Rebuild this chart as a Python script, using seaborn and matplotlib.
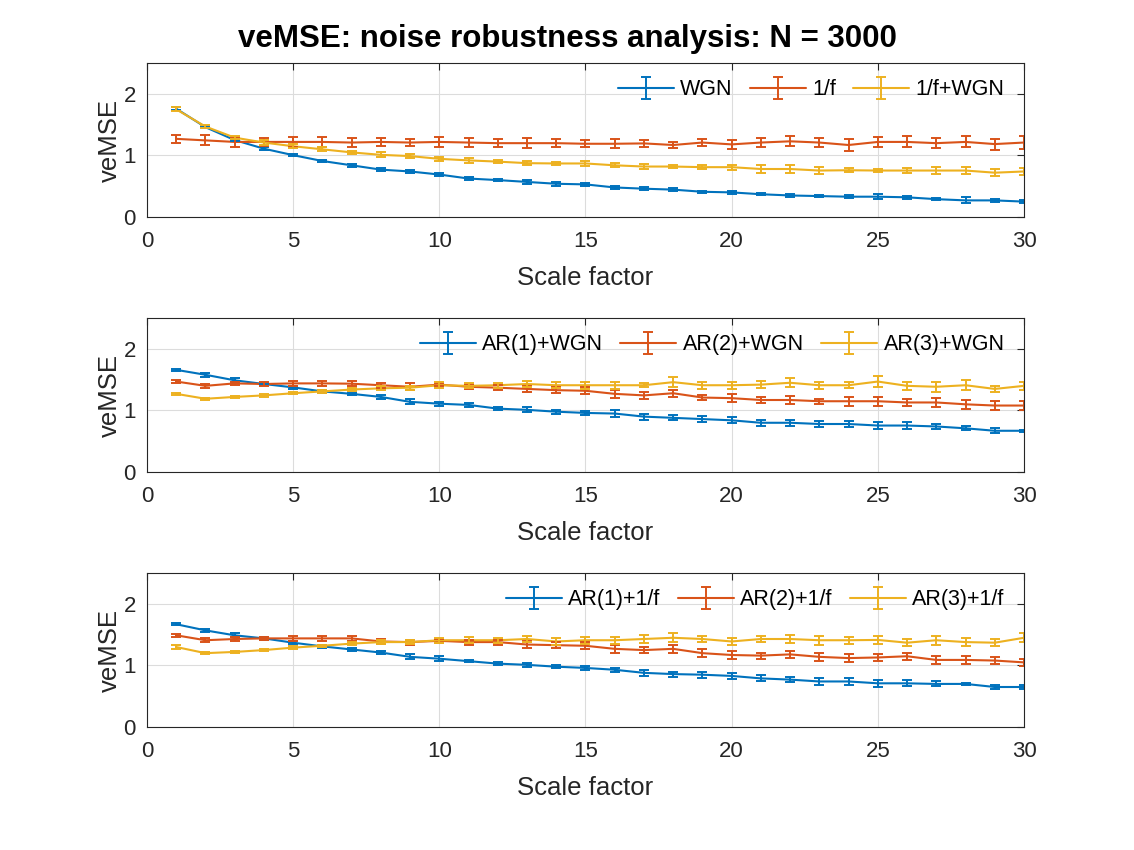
import matplotlib
matplotlib.use("Agg")
import matplotlib.pyplot as plt
from matplotlib.legend_handler import HandlerTuple
import pandas as pd
import seaborn as sns

scale = list(range(1, 31))

# panel 1
wgn = [1.76, 1.46, 1.25, 1.11, 1.005, 0.91, 0.84, 0.77, 0.74, 0.69,
       0.625, 0.60, 0.57, 0.54, 0.53, 0.48, 0.46, 0.445, 0.41, 0.40,
       0.37, 0.35, 0.34, 0.33, 0.33, 0.32, 0.29, 0.27, 0.27, 0.25]
wgn_err = [0.02, 0.02, 0.02, 0.02, 0.02, 0.02, 0.02, 0.02, 0.02, 0.02,
           0.02, 0.02, 0.03, 0.03, 0.02, 0.03, 0.02, 0.02, 0.02, 0.02,
           0.02, 0.02, 0.02, 0.02, 0.04, 0.02, 0.02, 0.05, 0.02, 0.03]
pink = [1.27, 1.245, 1.22, 1.22, 1.22, 1.22, 1.21, 1.22, 1.21, 1.22,
        1.21, 1.20, 1.20, 1.20, 1.19, 1.19, 1.196, 1.17, 1.21, 1.18,
        1.21, 1.23, 1.21, 1.17, 1.22, 1.22, 1.20, 1.22, 1.185, 1.21]
pink_err = [0.07, 0.08, 0.08, 0.07, 0.08, 0.08, 0.08, 0.07, 0.06, 0.08,
            0.08, 0.07, 0.08, 0.07, 0.06, 0.07, 0.06, 0.05, 0.06, 0.07,
            0.07, 0.08, 0.07, 0.09, 0.08, 0.09, 0.08, 0.09, 0.09, 0.11]
pink_wgn = [1.75, 1.47, 1.29, 1.21, 1.15, 1.10, 1.05, 1.01, 0.99, 0.945,
            0.92, 0.90, 0.875, 0.87, 0.87, 0.84, 0.82, 0.82, 0.81, 0.81,
            0.78, 0.78, 0.755, 0.76, 0.755, 0.755, 0.755, 0.755, 0.72, 0.74]
pink_wgn_err = [0.03, 0.03, 0.03, 0.04, 0.03, 0.03, 0.03, 0.04, 0.03, 0.03,
                0.04, 0.03, 0.03, 0.03, 0.04, 0.03, 0.04, 0.03, 0.03, 0.04,
                0.06, 0.06, 0.05, 0.03, 0.03, 0.04, 0.05, 0.05, 0.06, 0.06]

# panel 2
ar1_wgn = [1.66, 1.58, 1.49, 1.43, 1.375, 1.31, 1.27, 1.22, 1.14, 1.11,
           1.09, 1.03, 1.01, 0.98, 0.96, 0.95, 0.90, 0.88, 0.86, 0.84,
           0.80, 0.80, 0.78, 0.78, 0.755, 0.755, 0.74, 0.71, 0.67, 0.67]
ar1_wgn_err = [0.02, 0.03, 0.03, 0.02, 0.02, 0.02, 0.02, 0.03, 0.04, 0.03,
               0.03, 0.03, 0.04, 0.03, 0.03, 0.05, 0.05, 0.04, 0.05, 0.05,
               0.05, 0.05, 0.05, 0.05, 0.06, 0.05, 0.04, 0.03, 0.04, 0.02]
ar2_wgn = [1.47, 1.40, 1.44, 1.43, 1.44, 1.44, 1.435, 1.41, 1.385, 1.42,
           1.385, 1.37, 1.35, 1.33, 1.32, 1.27, 1.245, 1.28, 1.21, 1.20,
           1.17, 1.17, 1.15, 1.15, 1.15, 1.13, 1.13, 1.10, 1.08, 1.08]
ar2_wgn_err = [0.02, 0.03, 0.03, 0.03, 0.04, 0.04, 0.04, 0.04, 0.06, 0.03,
               0.04, 0.04, 0.05, 0.05, 0.06, 0.06, 0.06, 0.06, 0.04, 0.06,
               0.05, 0.06, 0.04, 0.07, 0.07, 0.05, 0.07, 0.07, 0.07, 0.07]
ar3_wgn = [1.27, 1.19, 1.22, 1.245, 1.28, 1.31, 1.34, 1.36, 1.37, 1.41,
           1.40, 1.41, 1.43, 1.41, 1.41, 1.41, 1.41, 1.46, 1.41, 1.41,
           1.42, 1.45, 1.41, 1.41, 1.47, 1.40, 1.385, 1.41, 1.35, 1.40]
ar3_wgn_err = [0.02, 0.02, 0.02, 0.02, 0.02, 0.02, 0.03, 0.03, 0.03, 0.05,
               0.04, 0.04, 0.05, 0.05, 0.06, 0.06, 0.03, 0.08, 0.06, 0.06,
               0.06, 0.07, 0.06, 0.05, 0.09, 0.06, 0.08, 0.08, 0.05, 0.06]

# panel 3
ar1_pink = [1.67, 1.57, 1.49, 1.44, 1.37, 1.31, 1.26, 1.21, 1.14, 1.11,
            1.07, 1.03, 1.01, 0.98, 0.96, 0.93, 0.88, 0.86, 0.85, 0.83,
            0.79, 0.77, 0.74, 0.74, 0.71, 0.71, 0.70, 0.70, 0.65, 0.65]
ar1_pink_err = [0.02, 0.03, 0.03, 0.02, 0.02, 0.02, 0.02, 0.03, 0.04, 0.04,
                0.02, 0.02, 0.03, 0.02, 0.03, 0.03, 0.05, 0.04, 0.05, 0.05,
                0.05, 0.04, 0.05, 0.05, 0.06, 0.05, 0.04, 0.02, 0.04, 0.03]
ar2_pink = [1.49, 1.41, 1.43, 1.44, 1.44, 1.44, 1.44, 1.39, 1.38, 1.40,
            1.38, 1.38, 1.34, 1.33, 1.32, 1.27, 1.25, 1.27, 1.20, 1.17,
            1.16, 1.18, 1.14, 1.12, 1.13, 1.15, 1.09, 1.09, 1.08, 1.05]
ar2_pink_err = [0.02, 0.03, 0.03, 0.03, 0.04, 0.04, 0.04, 0.04, 0.04, 0.03,
                0.04, 0.04, 0.06, 0.05, 0.06, 0.06, 0.05, 0.06, 0.06, 0.06,
                0.05, 0.06, 0.06, 0.06, 0.06, 0.06, 0.07, 0.06, 0.06, 0.06]
ar3_pink = [1.30, 1.20, 1.22, 1.25, 1.29, 1.32, 1.355, 1.38, 1.38, 1.41,
            1.41, 1.41, 1.43, 1.39, 1.41, 1.41, 1.43, 1.45, 1.43, 1.39,
            1.43, 1.43, 1.41, 1.41, 1.415, 1.37, 1.41, 1.38, 1.37, 1.45]
ar3_pink_err = [0.03, 0.02, 0.02, 0.02, 0.02, 0.02, 0.03, 0.03, 0.03, 0.04,
                0.05, 0.04, 0.05, 0.06, 0.06, 0.06, 0.06, 0.07, 0.05, 0.06,
                0.05, 0.06, 0.07, 0.06, 0.07, 0.06, 0.07, 0.06, 0.06, 0.07]

panels = [
    (["WGN", "1/f", "1/f+WGN"],
     [wgn, pink, pink_wgn], [wgn_err, pink_err, pink_wgn_err]),
    (["AR(1)+WGN", "AR(2)+WGN", "AR(3)+WGN"],
     [ar1_wgn, ar2_wgn, ar3_wgn], [ar1_wgn_err, ar2_wgn_err, ar3_wgn_err]),
    (["AR(1)+1/f", "AR(2)+1/f", "AR(3)+1/f"],
     [ar1_pink, ar2_pink, ar3_pink], [ar1_pink_err, ar2_pink_err, ar3_pink_err]),
]

colors = ["#0072BD", "#D95319", "#EDB120"]

sns.set_theme(style="white")
plt.rcParams["font.family"] = ["Liberation Sans", "DejaVu Sans"]

fig = plt.figure(figsize=(11.34, 8.5), dpi=100)
bottoms = [0.7447, 0.4447, 0.1447]

for (names, vals, errs), b in zip(panels, bottoms):
    ax = fig.add_axes([0.1296, b, 0.7734, 0.181])
    df = pd.DataFrame({
        "scale": scale * 3,
        "veMSE": vals[0] + vals[1] + vals[2],
        "series": sum([[n] * len(scale) for n in names], []),
    })
    sns.lineplot(data=df, x="scale", y="veMSE", hue="series",
                 palette=dict(zip(names, colors)), linewidth=1.5,
                 legend=False, ax=ax)
    handles = []
    for line, y, e, c in zip(ax.get_lines(), vals, errs, colors):
        eb = ax.errorbar(scale, y, yerr=e, fmt="none", ecolor=c,
                         elinewidth=1.4, capsize=3.5, capthick=1.4)
        handles.append((line, eb))
    leg = ax.legend(handles, names, handler_map={tuple: HandlerTuple(ndivide=1)},
                    ncol=3, frameon=False, loc="upper right", fontsize=15.5,
                    bbox_to_anchor=(1.0, 1.02), handlelength=2.6,
                    columnspacing=0.8, handletextpad=0.3)
    for t in leg.get_texts():
        t.set_color("black")

    ax.set_xlim(0, 30)
    ax.set_ylim(0, 2.5)
    ax.set_xticks(range(0, 31, 5))
    ax.set_yticks([0, 1, 2])
    ax.grid(True, color="#dcdcdc", linewidth=0.8)
    ax.tick_params(direction="in", top=True, right=True, length=5,
                   labelsize=16, color="#262626", labelcolor="#262626",
                   width=0.8)
    ax.tick_params(axis="x", pad=10)
    ax.tick_params(axis="y", pad=8)
    for s in ax.spines.values():
        s.set_color("#262626")
        s.set_linewidth(0.8)
    ax.set_xlabel("Scale factor", fontsize=18.5, color="#262626", labelpad=10)
    ax.set_ylabel("veMSE", fontsize=18.5, color="#262626", labelpad=1)

fig.suptitle("veMSE: noise robustness analysis: N = 3000", x=0.5, y=0.972,
             fontsize=22.5, fontweight="bold", color="black")

fig.savefig("out.png", dpi=100)
